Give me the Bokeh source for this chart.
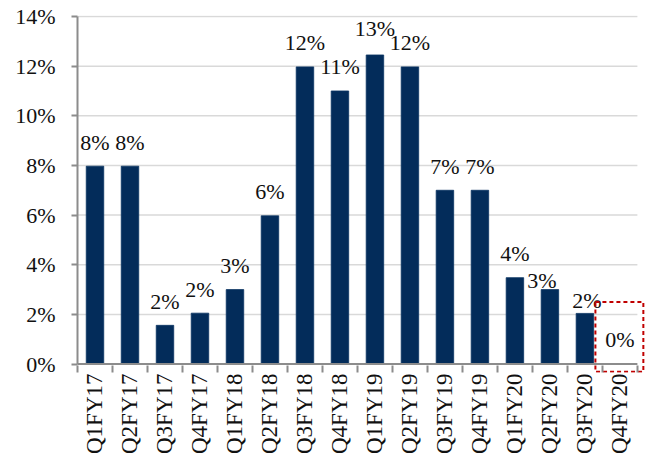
from bokeh.plotting import figure
from bokeh.models import Range1d, FixedTicker, ColumnDataSource
from bokeh.core.properties import value
from bokeh.embed import file_html
from bokeh.resources import INLINE

categories = ["Q1FY17", "Q2FY17", "Q3FY17", "Q4FY17", "Q1FY18", "Q2FY18", "Q3FY18", "Q4FY18",
              "Q1FY19", "Q2FY19", "Q3FY19", "Q4FY19", "Q1FY20", "Q2FY20", "Q3FY20", "Q4FY20"]
values = [7.97, 7.97, 1.56, 2.05, 3.0, 5.97, 11.97, 11.0, 12.45, 11.97, 7.0, 7.0, 3.48, 3.0, 2.04, 0.0]
labels = ["8%", "8%", "2%", "2%", "3%", "6%", "12%", "11%", "13%", "12%", "7%", "7%", "4%", "3%", "2%", "0%"]
y_ticks = [0, 2, 4, 6, 8, 10, 12, 14]

FONT = "Liberation Serif"
AXIS_COLOR = "#8c8c8c"
n = len(categories)
xc = [i + 0.5 for i in range(n)]

# label placement styling (pixel offsets)
label_dx = [0] * n
label_dy = [-24] * n
label_dy[8] = -26
label_dx[13] = -8
label_dy[13] = -9
label_dx[14] = 2
label_dy[14] = -13
label_dy[15] = -25

p = figure(width=651, height=457, output_backend="svg", toolbar_location=None,
           x_range=Range1d(0, 16.26), y_range=Range1d(-0.34, 14.04),
           min_border_left=77, min_border_right=5, min_border_top=15, min_border_bottom=84)
p.outline_line_color = None
p.xgrid.visible = False
p.ygrid.visible = False

# gridlines
gl = [t for t in y_ticks if t > 0]
p.segment(x0=[0] * len(gl), x1=[n] * len(gl), y0=gl, y1=gl, line_color="#d9d9d9", line_width=1.5)

src = ColumnDataSource(dict(x=xc, top=values, lab=labels, dx=label_dx, dy=label_dy))
p.vbar(x="x", top="top", bottom=0, width=0.5, source=src, fill_color="#032c5a",
       line_color="#0b3563", line_width=0.8)

# category axis baseline at 0
p.segment(x0=[0], x1=[n], y0=[0], y1=[0], line_color=AXIS_COLOR, line_width=2)

p.text(x="x", y="top", text="lab", source=src, x_offset="dx", y_offset="dy",
       text_align="center", text_baseline="middle", text_font=value(FONT),
       text_font_size="22px", text_color="#111111")

# red dashed highlight box around the last quarter
last = n - 1
p.quad(left=[last - 0.2], right=[last + 1.17], bottom=[-0.31], top=[2.5],
       fill_alpha=0, line_color="#c00000", line_width=2, line_dash="4 3")

# axes
ax = p.xaxis[0]
ax.bounds = (0, n)
ax.ticker = FixedTicker(ticks=xc, minor_ticks=list(range(n + 1)))
ax.major_label_overrides = {x: c for x, c in zip(xc, categories)}
ax.major_label_orientation = 3.14159265 / 2
ax.major_tick_out = 0
ax.major_tick_in = 0
ax.minor_tick_out = 0
ax.minor_tick_in = 7
ax.minor_tick_line_color = AXIS_COLOR
ax.minor_tick_line_width = 2
ax.axis_line_color = None
ax.major_label_standoff = 1
ax.major_label_text_font = FONT
ax.major_label_text_font_size = "23px"
ax.major_label_text_color = "#111111"

ay = p.yaxis[0]
ay.bounds = (0, 14)
ay.ticker = FixedTicker(ticks=y_ticks, minor_ticks=[])
ay.major_label_overrides = {t: f"{t}%" for t in y_ticks}
ay.major_tick_out = 6
ay.major_tick_in = 0
ay.major_tick_line_color = AXIS_COLOR
ay.major_tick_line_width = 2
ay.axis_line_color = AXIS_COLOR
ay.axis_line_width = 2
ay.major_label_standoff = 16
ay.major_label_text_font = FONT
ay.major_label_text_font_size = "22px"
ay.major_label_text_color = "#111111"

open("out.html", "w").write(file_html(p, INLINE))
